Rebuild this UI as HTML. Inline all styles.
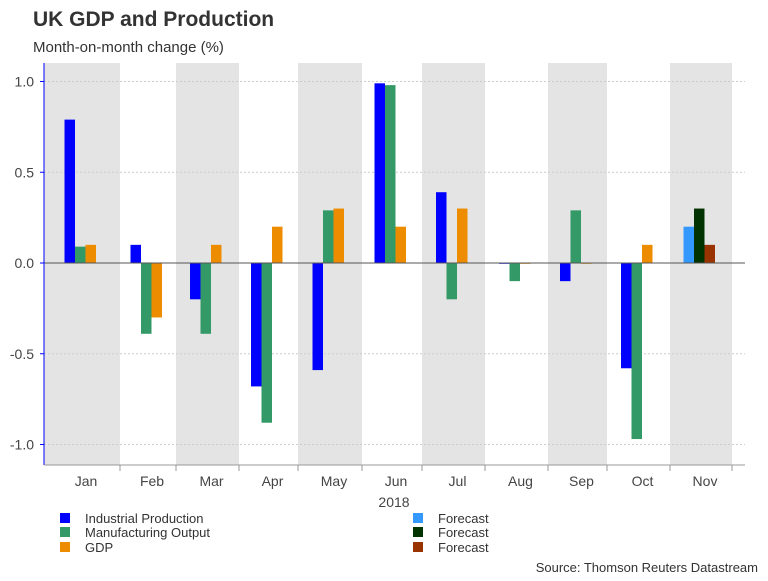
<!DOCTYPE html>
<html><head><meta charset="utf-8"><style>
body{margin:0;background:#fff;font-family:"Liberation Sans",Arial,sans-serif;}
svg text{font-family:"Liberation Sans",Arial,sans-serif;}
</style></head><body>
<svg id="c" width="768" height="576" xmlns="http://www.w3.org/2000/svg">
<text x="33" y="26" font-size="21" font-weight="bold" fill="#333">UK GDP and Production</text>
<text x="33" y="52" font-size="15" fill="#333">Month-on-month change (%)</text>
<g id="plot"></g>
</svg>
<script>
const months=["Jan","Feb","Mar","Apr","May","Jun","Jul","Aug","Sep","Oct","Nov"];
const industrial=[0.79,0.1,-0.2,-0.68,-0.59,0.99,0.39,0.0,-0.1,-0.58,null];
const manufacturing=[0.09,-0.39,-0.39,-0.88,0.29,0.98,-0.2,-0.1,0.29,-0.97,null];
const gdp=[0.1,-0.3,0.1,0.2,0.3,0.2,0.3,0.0,0.0,0.1,null];
const fcIndustrial=[null,null,null,null,null,null,null,null,null,null,0.2];
const fcManufacturing=[null,null,null,null,null,null,null,null,null,null,0.3];
const fcGdp=[null,null,null,null,null,null,null,null,null,null,0.1];
const yTicks=[1.0,0.5,0.0,-0.5,-1.0];
const bounds=[44,120,176,239,298,362,422,485,548,607,670,732];
const NS="http://www.w3.org/2000/svg";
const g=document.getElementById('plot');
function el(t,a,p){const e=document.createElementNS(NS,t);for(const k in a)e.setAttribute(k,a[k]);(p||g).appendChild(e);return e;}
const y=v=>263-v*181.5;
const pTop=63,pBot=465,pRight=745;
months.forEach((m,i)=>{if(i%2===0){const r=el('rect',{x:bounds[i],y:pTop,width:bounds[i+1]-bounds[i],height:pBot-pTop,fill:'#e4e4e4'});

}});
yTicks.forEach(t=>{const l=el('line',{x1:44,x2:pRight,y1:y(t),y2:y(t),stroke:'#ccc','stroke-dasharray':'2,2'});


const tx=el('text',{x:34,y:y(t)+5,'text-anchor':'end','font-size':14,fill:'#444'});tx.textContent=t.toFixed(1);


el('line',{x1:40,x2:44,y1:y(t),y2:y(t),stroke:'#00f'});});
const series=[[industrial,'#0000ff','industrial'],[manufacturing,'#339966','manufacturing'],[gdp,'#ee8c00','gdp'],[fcIndustrial,'#3399ff','fc-industrial'],[fcManufacturing,'#003300','fc-manufacturing'],[fcGdp,'#993300','fc-gdp']];
months.forEach((m,i)=>{const c=(bounds[i]+bounds[i+1])/2-2;
let vis=series.filter(s=>s[0][i]!==null);
vis.forEach((s,j)=>{const v=s[0][i];const x=c-15.5+j*10.5;
const r=el('rect',{x:x,y:Math.min(y(v),y(0)),width:10.5,height:Math.max(Math.abs(y(v)-y(0)),0.8),fill:s[1]});

});
const t=el('text',{x:(bounds[i]+bounds[i+1])/2+4,y:486,'text-anchor':'middle','font-size':14,fill:'#444'});t.textContent=m;

});
el('line',{x1:44,x2:pRight,y1:y(0),y2:y(0),stroke:'#555','stroke-width':1});
el('line',{x1:44,x2:44,y1:pTop,y2:pBot,stroke:'#00f'});
el('line',{x1:44,x2:pRight,y1:pBot,y2:pBot,stroke:'#999'});
bounds.slice(1).forEach(b=>el('line',{x1:b,x2:b,y1:pBot,y2:pBot+6,stroke:'#999'}));
const yr=el('text',{x:394,y:507,'text-anchor':'middle','font-size':14,fill:'#444'});yr.textContent='2018';


const leg=[['Industrial Production','#0000ff',60,519],['Manufacturing Output','#339966',60,533],['GDP','#ee8c00',60,548],['Forecast','#3399ff',413,519],['Forecast','#003300',413,533],['Forecast','#993300',413,548]];
leg.forEach(l=>{const r=el('rect',{x:l[2],y:l[3]-6,width:10,height:10,fill:l[1]});


const t=el('text',{x:l[2]+25,y:l[3]+4,'font-size':13,fill:'#333'});t.textContent=l[0];

});
const s=el('text',{x:758,y:572,'text-anchor':'end','font-size':13,fill:'#333'});s.textContent='Source: Thomson Reuters Datastream';


</script>
</body></html>
